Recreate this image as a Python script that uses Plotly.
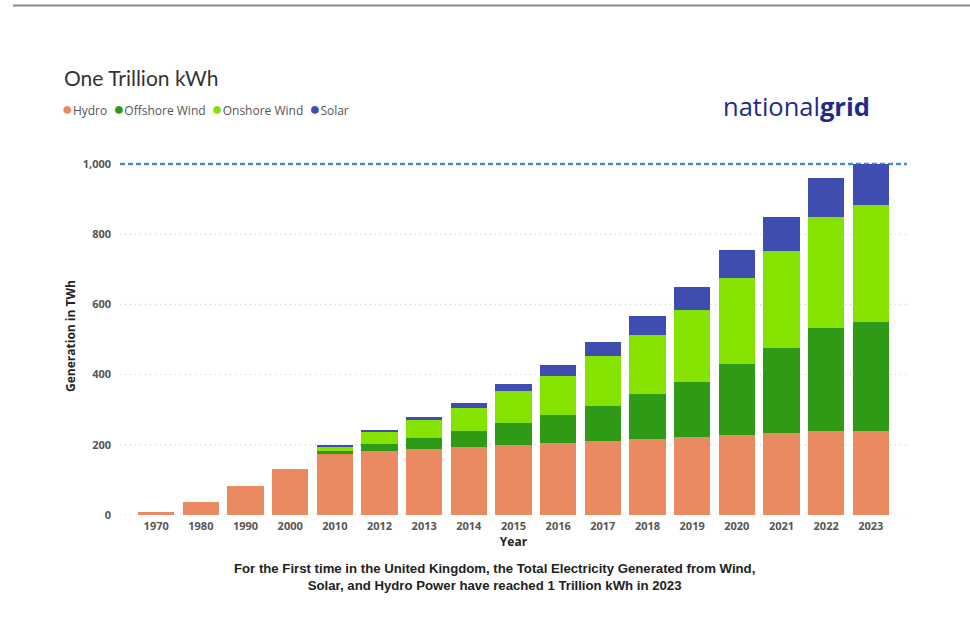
import plotly.graph_objects as go

# Electricity generated from renewables in the UK (TWh), stacked by source
years = ["1970", "1980", "1990", "2000", "2010", "2012", "2013", "2014", "2015",
         "2016", "2017", "2018", "2019", "2020", "2021", "2022", "2023"]
hydro = [8, 37, 82, 131, 173, 183, 188, 193, 199, 204, 210, 216, 222, 227, 234, 239, 239]
offshore_wind = [0, 0, 0, 0, 10, 20, 31, 46, 62, 80, 101, 128, 158, 202, 242, 295, 312]
onshore_wind = [0, 0, 0, 0, 12, 34, 53, 67, 92, 111, 141, 170, 203, 245, 277, 316, 332]
solar = [0, 0, 0, 0, 5, 5, 7, 12, 19, 31, 40, 54, 67, 81, 96, 109, 117]

series_names = ["Hydro", "Offshore Wind", "Onshore Wind", "Solar"]
series_values = [hydro, offshore_wind, onshore_wind, solar]
series_colors = ["#E98A60", "#2E9A16", "#86E200", "#3F4CB0"]

y_ticks = [0, 200, 400, 600, 800, 1000]
target_twh = 1000

W, H = 970, 641
L, R, T, B = 120, 63, 157, 126
plot_w, plot_h = W - L - R, H - T - B


def px(x):
    return (x - L) / plot_w


def py(y):
    return (H - B - y) / plot_h


fig = go.Figure()
for name, vals, col in zip(series_names, series_values, series_colors):
    fig.add_trace(go.Bar(x=years, y=vals, name=name, marker=dict(color=col, line=dict(width=0)),
                         showlegend=False))

# dotted gridlines (the top one is replaced by the target line)
for v in y_ticks[:-1]:
    fig.add_shape(type="line", xref="paper", yref="y", x0=0, x1=1, y0=v, y1=v,
                  line=dict(color="#C4C4C4", width=1, dash="1px,4px"), layer="below")

# 1 trillion kWh reference line
fig.add_shape(type="line", xref="paper", yref="y", x0=0, x1=1, y0=target_twh, y1=target_twh,
              line=dict(color="#4A8FCB", width=2.5, dash="5px,3px"), layer="below")

# top rule
fig.add_shape(type="line", xref="paper", yref="paper", x0=px(13), x1=px(972), y0=py(5.5), y1=py(5.5),
              line=dict(color="#8A8A8A", width=2))

# legend row with round markers
legend_html = "  ".join(
    f"<span style='color:{c};font-size:18px'>●</span>{n}" for n, c in zip(series_names, series_colors)
)
annotations = [
    dict(text="One Trillion kWh", x=px(62), y=py(77), xref="paper", yref="paper",
         xanchor="left", yanchor="middle", showarrow=False,
         font=dict(family="Lato", size=21, color="#333333")),
    dict(text=legend_html, x=px(60), y=py(108), xref="paper", yref="paper",
         xanchor="left", yanchor="middle", showarrow=False,
         font=dict(family="Open Sans", size=12, color="#555555")),
    dict(text="national<b>grid</b>", x=px(721), y=py(106), xref="paper", yref="paper",
         xanchor="left", yanchor="middle", showarrow=False,
         font=dict(family="Open Sans", size=25.5, color="#1E2A8C")),
    dict(text="<b>For the First time in the United Kingdom, the Total Electricity Generated from Wind,<br>"
              "Solar, and Hydro Power have reached 1 Trillion kWh in 2023</b>",
         x=px(494), y=py(577), xref="paper", yref="paper", xanchor="center", yanchor="middle",
         showarrow=False, align="center",
         font=dict(family="Liberation Sans", size=13.2, color="#222222")),
]

fig.update_layout(
    width=W, height=H,
    margin=dict(l=L, r=R, t=T, b=B),
    paper_bgcolor="white", plot_bgcolor="white",
    barmode="stack", bargap=0.19,
    annotations=annotations,
    xaxis=dict(
        type="category", range=[-0.81, 16.81],
        showgrid=False, showline=False, zeroline=False, ticks="", ticklabelstandoff=3,
        tickfont=dict(family="Open Sans", size=11, color="#555555", weight="bold"),
        title=dict(text="<b>Year</b>", standoff=4,
                   font=dict(family="Open Sans", size=12, color="#222222")),
    ),
    yaxis=dict(
        range=[0, 1020], tickvals=y_ticks, tickformat=",",
        showgrid=False, zeroline=False, showline=False, ticks="", ticklabelstandoff=8,
        tickfont=dict(family="Open Sans", size=11, color="#555555", weight="bold"),
        title=dict(text="<b>Generation in TWh</b>", standoff=4,
                   font=dict(family="Open Sans", size=12, color="#222222")),
    ),
)

fig.write_html("out.html")
